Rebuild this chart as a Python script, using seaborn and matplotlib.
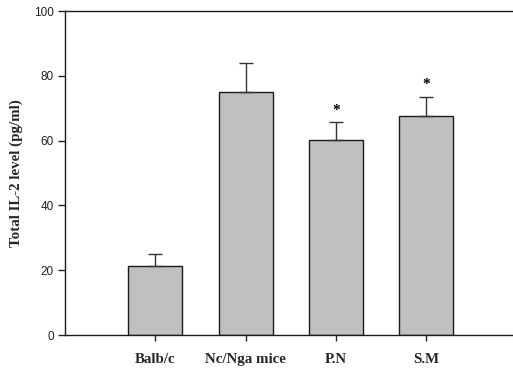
import matplotlib
matplotlib.use("Agg")
import matplotlib.pyplot as plt
import seaborn as sns
import pandas as pd

# Group means and upper standard errors for total IL-2
groups = ["Balb/c", "Nc/Nga mice", "P.N", "S.M"]
il2_mean = [21.3, 75.1, 60.2, 67.5]
il2_err = [3.6, 8.8, 5.4, 6.1]
significant = [False, False, True, True]

sns.set_style("ticks")
plt.rcParams["font.family"] = ["Liberation Sans", "DejaVu Sans"]

df = pd.DataFrame({"group": groups, "mean": il2_mean, "err": il2_err})

fig = plt.figure(figsize=(5.13, 3.68), dpi=100)
ax = fig.add_axes([65 / 513, 1 - 335 / 368, 451.5 / 513, 324 / 368])

sns.barplot(data=df, x="group", y="mean", order=groups, color="#c0c0c0",
            saturation=1, width=0.6, edgecolor="#1a1a1a", linewidth=1.0,
            errorbar=None, ax=ax, zorder=2)

# upper-only error bars
xs = list(range(len(groups)))
ax.errorbar(xs, il2_mean, yerr=[[0] * len(groups), il2_err], fmt="none",
            ecolor="#333333", elinewidth=1.0, capsize=5, capthick=1.0, zorder=3)

for x, m, e, s in zip(xs, il2_mean, il2_err, significant):
    if s:
        ax.text(x, m + e + 3.6, "*", ha="center", va="center", fontsize=11,
                fontweight="bold", family=["Liberation Serif"], color="black")

ax.set_xlim(-1, 4)
ax.set_ylim(0, 100)
ax.set_yticks([0, 20, 40, 60, 80, 100])
ax.tick_params(axis="y", direction="out", length=5, width=1, labelsize=8.5,
               colors="#222222", pad=3)
ax.tick_params(axis="x", direction="out", length=4, width=1, pad=9)
for lbl in ax.get_xticklabels():
    lbl.set_fontfamily(["Liberation Serif"])
    lbl.set_fontweight("bold")
    lbl.set_fontsize(10.8)
ax.set_xlabel("")
ax.set_ylabel("Total IL-2 level (pg/ml)", family=["Liberation Serif"],
              fontweight="bold", fontsize=10.8, labelpad=8)

for side in ["left", "bottom", "top"]:
    ax.spines[side].set_visible(True)
    ax.spines[side].set_linewidth(1.0)
    ax.spines[side].set_color("#1a1a1a")
ax.spines["right"].set_visible(False)

fig.savefig("out.png", dpi=100)
